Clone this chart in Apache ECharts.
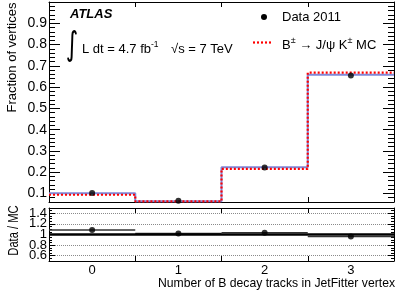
<!DOCTYPE html>
<html><head><meta charset="utf-8">
<script src="https://cdn.jsdelivr.net/npm/echarts@6/dist/echarts.min.js"></script>
<style>html,body{margin:0;padding:0;background:#fff}#c{width:407px;height:293px}</style>
</head><body><div id="c"></div>
<script>
// ---- data ----
const categories = ['0', '1', '2', '3'];
const binEdges = [-0.5, 0.5, 1.5, 2.5, 3.5];
const dataFraction = [0.102, 0.066, 0.222, 0.654];
const mcFraction = [0.094, 0.063, 0.216, 0.668];
const mcBandFraction = [0.101, 0.064, 0.223, 0.658];
const dataOverMC = [1.085, 1.02, 1.035, 0.96];
const ratioReference = 1;
const topRange = [0.06, 1.0];
const ratioRange = [0.5, 1.5];

const FONT = 'Liberation Sans, Arial, Helvetica, sans-serif';
function stepPoints(vals) {
  return binEdges.map((e, i) => [e, vals[Math.min(i, vals.length - 1)]]);
}
const centers = categories.map((c, i) => (binEdges[i] + binEdges[i + 1]) / 2);

const chart = echarts.init(document.getElementById('c'), null, {renderer: 'canvas'});

function catAxis(gridIndex, position, showLabel) {
  return {
    type: 'category', gridIndex, position, data: categories, boundaryGap: true,
    axisLine: {show: true, onZero: false, lineStyle: {color: '#000', width: 1}},
    axisTick: {show: true, inside: true, length: 5, lineStyle: {color: '#000'}},
    axisLabel: {show: showLabel, color: '#000', fontSize: 13, fontFamily: FONT, margin: 3},
    splitLine: {show: false}
  };
}
function hiddenX(gridIndex) {
  return {type: 'value', gridIndex, min: binEdges[0], max: binEdges[binEdges.length - 1], show: false,
    position: 'bottom', axisLine: {onZero: false}, splitLine: {show: false}};
}
function majorY(gridIndex, position, range, split, tickLen, showLabel, fontSize, splitLine) {
  return {
    type: 'value', gridIndex, position, min: range[0], max: range[1], splitNumber: split,
    axisLine: {show: true, onZero: false, lineStyle: {color: '#000', width: 1}},
    axisTick: {show: true, inside: true, length: tickLen, lineStyle: {color: '#000'}},
    axisLabel: {show: showLabel, color: '#000', fontSize, fontFamily: FONT, margin: 2,
      showMinLabel: false, showMaxLabel: false},
    splitLine: splitLine ? {show: true, lineStyle: {color: '#8a8a8a', type: [1, 1], width: 1}} : {show: false}
  };
}
function minorY(gridIndex, position, range, interval, tickLen) {
  return {
    type: 'value', gridIndex, position, min: range[0], max: range[1], interval,
    axisLine: {show: false, onZero: false},
    axisTick: {show: true, inside: true, length: tickLen, lineStyle: {color: '#000'}},
    axisLabel: {show: false}, splitLine: {show: false}
  };
}

const option = {
  animation: false,
  backgroundColor: '#fff',
  grid: [
    {left: 49, right: 13, top: 2, height: 200, containLabel: false, outerBoundsMode: 'none'},
    {left: 49, right: 13, top: 208, height: 53, containLabel: false, outerBoundsMode: 'none'}
  ],
  xAxis: [
    catAxis(0, 'bottom', false),
    catAxis(0, 'top', false),
    hiddenX(0),
    catAxis(1, 'bottom', true),
    catAxis(1, 'top', false),
    hiddenX(1)
  ],
  yAxis: [
    majorY(0, 'left', topRange, 9, 11, true, 14, false),
    majorY(0, 'right', topRange, 9, 11, false, 14, false),
    minorY(0, 'left', topRange, 0.02, 6),
    minorY(0, 'right', topRange, 0.02, 6),
    majorY(1, 'left', ratioRange, 5, 6, true, 13, true),
    majorY(1, 'right', ratioRange, 5, 6, false, 13, false),
    minorY(1, 'left', ratioRange, 0.05, 3),
    minorY(1, 'right', ratioRange, 0.05, 3)
  ],
  series: [
    {type: 'line', xAxisIndex: 2, yAxisIndex: 0, step: 'end', symbol: 'none',
      data: stepPoints(mcBandFraction), lineStyle: {color: '#8088d8', width: 2}, z: 2},
    {type: 'line', xAxisIndex: 2, yAxisIndex: 0, step: 'end', symbol: 'none',
      data: stepPoints(mcFraction), lineStyle: {color: '#ff0000', width: 2.2, type: [2, 2]}, z: 3},
    {type: 'scatter', xAxisIndex: 2, yAxisIndex: 0, symbol: 'circle', symbolSize: 6,
      data: centers.map((c, i) => [c, dataFraction[i]]), itemStyle: {color: '#000'}, z: 4},
    {type: 'custom', xAxisIndex: 5, yAxisIndex: 4,
      data: dataOverMC.map((v, i) => [binEdges[i], binEdges[i + 1], v]),
      renderItem: function (params, api) {
        const a = api.coord([api.value(0), api.value(2)]);
        const b = api.coord([api.value(1), api.value(2)]);
        return {type: 'line', shape: {x1: a[0], y1: a[1], x2: b[0], y2: b[1]},
          style: {stroke: '#333', lineWidth: 1.3}};
      }, z: 2},
    {type: 'line', xAxisIndex: 5, yAxisIndex: 4, symbol: 'none',
      data: [[binEdges[0], ratioReference], [binEdges[binEdges.length - 1], ratioReference]],
      lineStyle: {color: '#000', width: 2.5}, z: 3},
    {type: 'scatter', xAxisIndex: 5, yAxisIndex: 4, symbol: 'circle', symbolSize: 6,
      data: centers.map((c, i) => [c, dataOverMC[i]]), itemStyle: {color: '#000'}, z: 4}
  ],
  graphic: [
    {type: 'text', x: 12, y: 57.5, rotation: Math.PI / 2,
      style: {text: 'Fraction of vertices', fontSize: 13, fontFamily: FONT, fill: '#000', align: 'center', verticalAlign: 'middle'}},
    {type: 'text', x: 14.5, y: 230.5, rotation: Math.PI / 2, scaleX: 0.8,
      style: {text: 'Data / MC', fontSize: 14, fontFamily: FONT, fill: '#000', align: 'center', verticalAlign: 'middle'}},
    {type: 'text', x: 395, y: 283.5,
      style: {text: 'Number of B decay tracks in JetFitter vertex', fontSize: 12.2, fontFamily: FONT, fill: '#000', align: 'right', verticalAlign: 'middle'}},
    {type: 'text', x: 70, y: 14.5,
      style: {text: 'ATLAS', fontSize: 13, fontWeight: 'bold', fontStyle: 'italic', fontFamily: FONT, fill: '#000', align: 'left', verticalAlign: 'middle'}},
    {type: 'text', x: 72, y: 46.5, scaleX: 0.8, scaleY: 1.1,
      style: {text: '\u222B', fontSize: 30, fontFamily: 'DejaVu Sans', fill: '#000', align: 'center', verticalAlign: 'middle'}},
    {type: 'text', x: 82, y: 49,
      style: {text: 'L dt = 4.7 fb{sup|-1}', fontSize: 13, fontFamily: FONT, fill: '#000', align: 'left', verticalAlign: 'middle',
        rich: {sup: {fontSize: 8.5, fontFamily: FONT, verticalAlign: 'top', padding: [0, 0, 8, 0]}}}},
    {type: 'text', x: 171, y: 49,
      style: {text: '\u221As = 7 TeV', fontSize: 13, fontFamily: FONT, fill: '#000', align: 'left', verticalAlign: 'middle'}},
    {type: 'circle', shape: {cx: 264, cy: 17, r: 3}, style: {fill: '#000'}},
    {type: 'text', x: 282, y: 17.5,
      style: {text: 'Data 2011', fontSize: 13, fontFamily: FONT, fill: '#000', align: 'left', verticalAlign: 'middle'}},
    {type: 'line', shape: {x1: 253, y1: 42.5, x2: 273, y2: 42.5}, style: {stroke: '#ff0000', lineWidth: 2.2, lineDash: [2, 2]}},
    {type: 'text', x: 282, y: 45,
      style: {text: 'B{sup|\u00B1} \u2192 J/\u03C8 K{sup|\u00B1} MC', fontSize: 13, fontFamily: FONT, fill: '#000', align: 'left', verticalAlign: 'middle',
        rich: {sup: {fontSize: 9, fontFamily: FONT, padding: [0, 0, 8, 0]}}}}
  ]
};
chart.setOption(option);
</script>
</body></html>
